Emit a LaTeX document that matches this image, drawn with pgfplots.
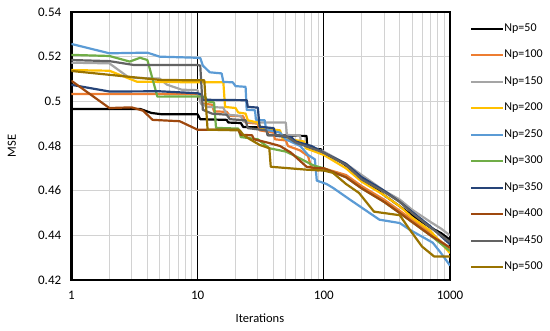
\documentclass[border=0pt]{standalone}
\usepackage{fontspec}
\setmainfont{Carlito}
\usepackage{pgfplots}
\pgfplotsset{compat=1.18}
\definecolor{c50}{HTML}{000000}
\definecolor{c100}{HTML}{ED7D31}
\definecolor{c150}{HTML}{A5A5A5}
\definecolor{c200}{HTML}{FFC000}
\definecolor{c250}{HTML}{5B9BD5}
\definecolor{c300}{HTML}{70AD47}
\definecolor{c350}{HTML}{264478}
\definecolor{c400}{HTML}{9E480E}
\definecolor{c450}{HTML}{636363}
\definecolor{c500}{HTML}{997300}
\begin{document}
\begin{tikzpicture}
\begin{axis}[
  name=ax,
  scale only axis,
  width=378.6pt, height=268pt,
  xmode=log,
  xmin=1, xmax=1000, ymin=0.42, ymax=0.54,
  xtick={1,10,100,1000}, xticklabels={1,10,100,1000},
  ytick={0.42,0.44,0.46,0.48,0.5,0.52,0.54},
  yticklabels={0.42,0.44,0.46,0.48,0.5,0.52,0.54},
  /pgf/number format/assume math mode=true,
  major tick length=0pt, minor tick length=0pt,
  xmajorgrids, xminorgrids, ymajorgrids,
  major x grid style={black, line width=1pt},
  minor x grid style={gray!35, line width=1pt},
  major y grid style={gray!35, line width=1pt},
  axis line style={line width=2.8pt},
  tick label style={font=\fontsize{13}{15}\selectfont},
  yticklabel style={inner sep=0pt, xshift=-10pt},
  xticklabel style={inner sep=0pt, yshift=-11pt},
  xlabel={Iterations}, ylabel={MSE},
  every axis x label/.style={at={(axis description cs:0.498,-0.142)}, anchor=center, font=\fontsize{12.5}{14}\selectfont},
  every axis y label/.style={at={(axis description cs:-0.157,0.5)}, rotate=90, anchor=center, font=\fontsize{12.5}{14}\selectfont},
  legend style={at={(axis description cs:1,1)}, anchor=north west, xshift=20pt, yshift=-11pt,
    draw=none, fill=none, inner sep=0pt, row sep=15.5pt,
    font=\fontsize{12}{14}\selectfont,
    nodes={inner sep=0pt, text height=8pt, text depth=3pt}},
  legend cell align=left,
  legend image code/.code={\draw[#1, line width=2.2pt] (0pt,0pt) -- (32pt,0pt);},
  every axis plot/.append style={line width=2.2pt, line join=round},
]
\addplot[c50] coordinates {(1,0.4966)(3.5,0.4966)(4.3,0.4948)(5.2,0.4942)(10,0.4942)(10.5,0.4920)(17,0.4917)(17.5,0.4905)(22,0.4903)(23,0.4885)(35,0.4883)(36,0.4848)(73,0.4845)(74,0.4790)(95,0.4785)(100,0.4765)(120,0.4745)(140,0.4725)(160,0.4700)(200,0.4650)(250,0.4615)(300,0.4580)(400,0.4530)(500,0.4490)(600,0.4460)(700,0.4435)(850,0.4410)(1000,0.4380)};
\addlegendentry{Np=50}
\addplot[c100] coordinates {(1,0.5033)(10,0.5033)(10.8,0.4990)(13,0.4985)(13.5,0.4955)(17,0.4953)(18,0.4935)(23,0.4933)(24,0.4905)(30,0.4900)(31,0.4870)(40,0.4860)(41,0.4830)(50,0.4825)(52,0.4800)(65,0.4780)(75,0.4755)(80,0.4700)(90,0.4690)(100,0.4700)(150,0.4670)(200,0.4620)(300,0.4560)(400,0.4510)(500,0.4470)(700,0.4410)(1000,0.4340)};
\addlegendentry{Np=100}
\addplot[c150] coordinates {(1,0.5173)(2,0.5170)(2.8,0.5110)(3.2,0.5105)(5,0.5102)(5.7,0.5075)(7.5,0.5052)(10,0.5050)(10.6,0.4990)(12,0.4975)(16,0.4972)(17,0.4940)(22,0.4935)(23,0.4910)(29,0.4905)(50,0.4905)(51,0.4850)(65,0.4845)(66,0.4810)(100,0.4775)(150,0.4720)(200,0.4670)(300,0.4600)(400,0.4560)(500,0.4515)(700,0.4460)(850,0.4430)(1000,0.4400)};
\addlegendentry{Np=150}
\addplot[c200] coordinates {(1,0.5140)(2,0.5137)(3.3,0.5088)(10,0.5085)(16,0.5085)(16.5,0.4975)(20,0.4970)(21,0.4950)(24,0.4945)(25,0.4915)(30,0.4905)(32,0.4880)(45,0.4870)(47,0.4835)(70,0.4820)(72,0.4790)(100,0.4760)(150,0.4700)(200,0.4640)(300,0.4580)(400,0.4530)(500,0.4480)(700,0.4420)(1000,0.4320)};
\addlegendentry{Np=200}
\addplot[c250] coordinates {(1,0.5257)(2,0.5215)(4,0.5218)(5,0.5200)(10,0.5195)(10.5,0.5194)(11,0.5160)(12.5,0.5130)(15.5,0.5125)(16,0.5087)(19,0.5085)(20,0.5068)(24,0.5065)(24.5,0.4962)(28.5,0.4960)(29,0.4917)(34,0.4915)(35,0.4873)(45,0.4860)(50,0.4830)(65,0.4800)(75,0.4760)(85,0.4740)(88,0.4645)(105,0.4630)(118,0.4613)(161,0.4560)(276,0.4470)(400,0.4455)(480,0.4425)(730,0.4367)(850,0.4320)(1000,0.4265)};
\addlegendentry{Np=250}
\addplot[c300] coordinates {(1,0.5208)(2,0.5203)(2.9,0.5178)(3.5,0.5195)(4.0,0.5185)(4.8,0.5021)(10,0.5022)(11.5,0.5020)(12,0.5000)(13.5,0.4995)(14,0.4881)(21,0.4878)(22,0.4840)(30,0.4830)(37,0.4790)(50,0.4775)(61,0.4752)(82,0.4714)(100,0.4700)(150,0.4660)(200,0.4610)(300,0.4550)(400,0.4500)(500,0.4460)(700,0.4400)(1000,0.4330)};
\addlegendentry{Np=300}
\addplot[c350] coordinates {(1,0.5074)(2,0.5044)(5,0.5045)(10,0.5036)(10.8,0.5030)(11,0.5007)(24.5,0.5005)(25,0.4975)(30,0.4972)(31,0.4886)(40,0.4880)(42,0.4845)(55,0.4840)(60,0.4820)(80,0.4800)(100,0.4770)(150,0.4720)(200,0.4660)(300,0.4600)(400,0.4550)(500,0.4505)(700,0.4440)(1000,0.4360)};
\addlegendentry{Np=350}
\addplot[c400] coordinates {(1,0.5092)(2,0.4970)(3,0.4973)(3.7,0.4958)(4.4,0.4917)(7.2,0.4911)(10,0.4873)(21,0.4873)(22,0.4850)(27,0.4848)(28,0.4830)(36,0.4815)(45,0.4800)(55,0.4770)(73,0.4707)(90,0.4700)(100,0.4700)(150,0.4660)(200,0.4610)(300,0.4550)(400,0.4500)(500,0.4460)(700,0.4400)(1000,0.4345)};
\addlegendentry{Np=400}
\addplot[c450] coordinates {(1,0.5185)(2,0.5180)(3.1,0.5163)(10,0.5163)(10.5,0.5160)(11,0.4962)(13,0.4945)(17,0.4940)(18,0.4920)(24,0.4915)(25,0.4880)(35,0.4870)(36,0.4850)(50,0.4845)(60,0.4815)(80,0.4790)(100,0.4770)(150,0.4715)(200,0.4650)(300,0.4595)(400,0.4550)(500,0.4500)(700,0.4435)(1000,0.4370)};
\addlegendentry{Np=450}
\addplot[c500] coordinates {(1,0.5136)(5,0.5096)(10,0.5094)(11.3,0.5094)(12,0.4873)(21.6,0.4870)(23,0.4850)(26,0.4830)(31,0.4805)(37,0.4790)(38,0.4707)(73,0.4694)(100,0.4690)(118,0.4680)(150,0.4630)(190,0.4590)(250,0.4506)(400,0.4490)(480,0.4425)(600,0.4350)(750,0.4305)(1000,0.4305)};
\addlegendentry{Np=500}
\coordinate (O) at (rel axis cs:0,0);
\end{axis}
\pgfresetboundingbox
\path (O) ++(-71.4pt,-51pt) rectangle ++(550pt,331pt);
\end{tikzpicture}
\end{document}
